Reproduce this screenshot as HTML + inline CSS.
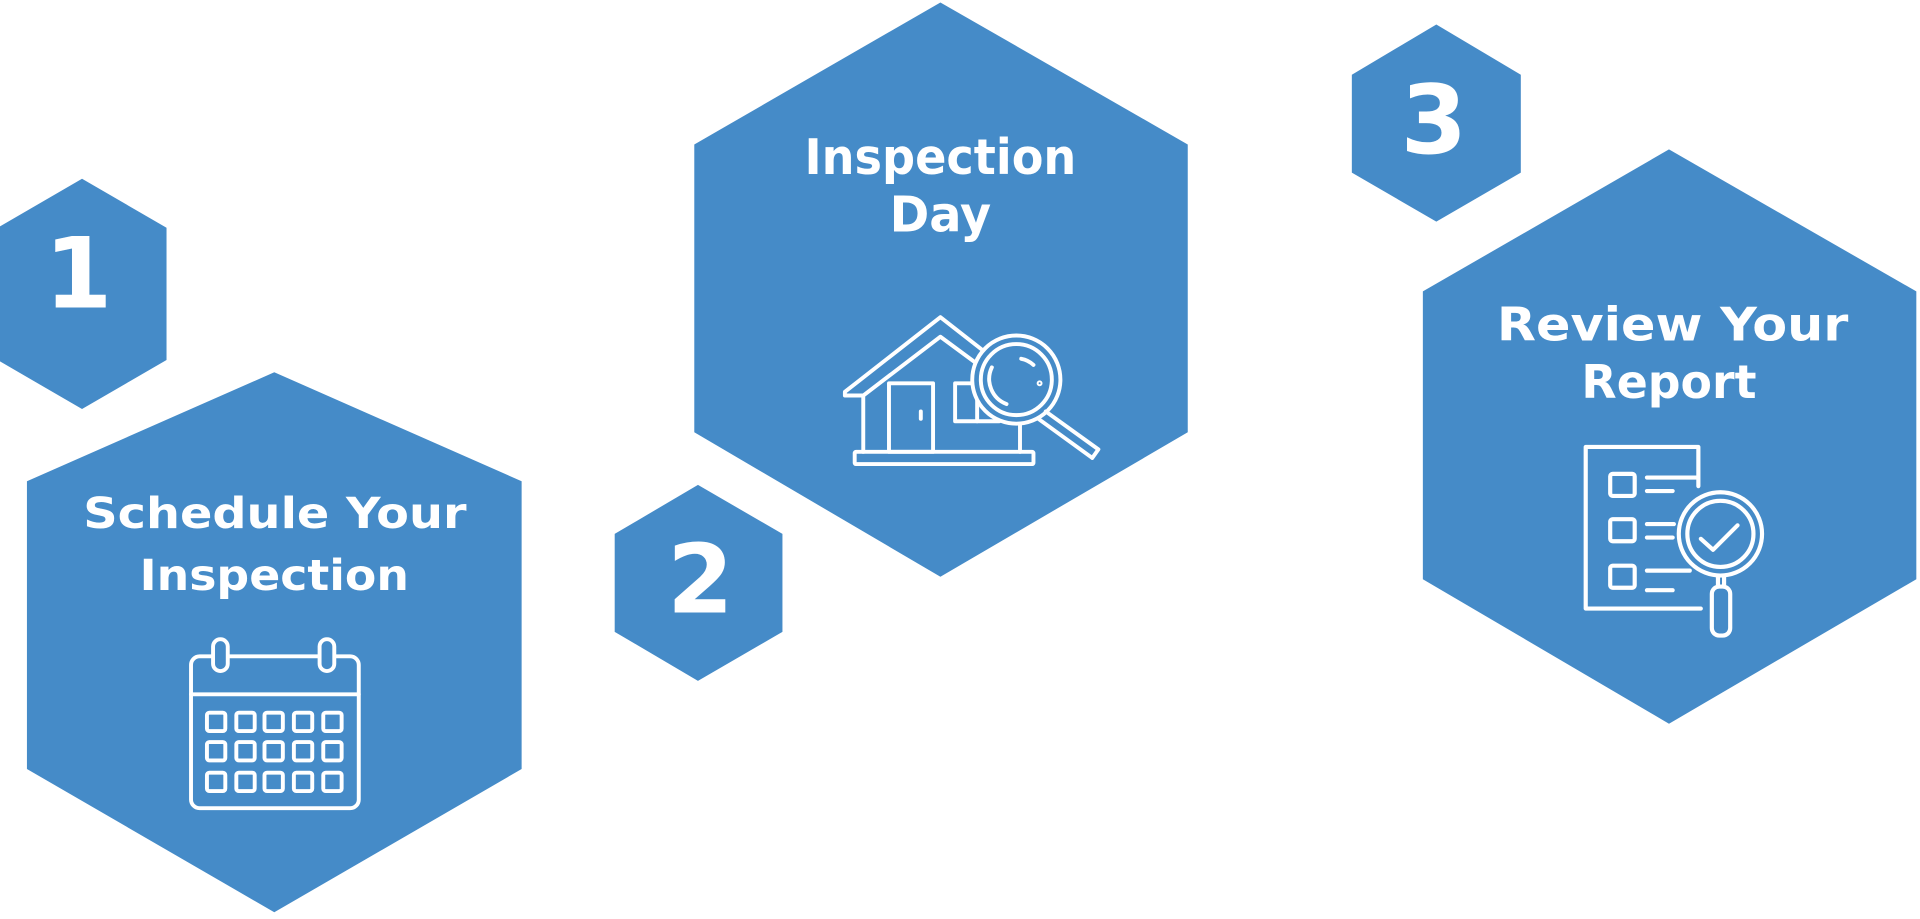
<!DOCTYPE html>
<html><head><meta charset="utf-8"><style>
html,body{margin:0;padding:0;background:#fff;width:1920px;height:919px;overflow:hidden}
svg{display:block}
text{font-family:"DejaVu Sans","Liberation Sans",sans-serif;font-weight:bold;fill:#fff;text-anchor:middle}
</style></head><body>
<svg width="1920" height="919" viewBox="0 0 1568 750.5" preserveAspectRatio="none" xmlns="http://www.w3.org/2000/svg">
<g fill="#458bc8">
<polygon points="67,146 136,186 136,294 67,334 -2,294 -2,186"/>
<polygon points="224,304 426,393 426,628 224,745 22,628 22,393"/>
<polygon points="570,396 639,436 639,516 570,556 502,516 502,436"/>
<polygon points="768,2 970,118 970,353 768,471 567,353 567,118"/>
<polygon points="1173,20 1242,61 1242,141 1173,181 1104,141 1104,61"/>
<polygon points="1363,122 1565,238 1565,473 1363,591 1162,473 1162,238"/>
</g>
<text x="64" y="251" font-size="80">1</text>
<text x="572" y="500" font-size="78">2</text>
<text x="1171" y="125" font-size="78">3</text>
<text x="224.5" y="431" font-size="35" textLength="313" lengthAdjust="spacingAndGlyphs">Schedule Your</text>
<text x="224" y="482" font-size="35" textLength="220" lengthAdjust="spacingAndGlyphs">Inspection</text>
<text x="768" y="142" font-size="40" textLength="222" lengthAdjust="spacingAndGlyphs">Inspection</text>
<text x="768" y="189" font-size="40" textLength="83" lengthAdjust="spacingAndGlyphs">Day</text>
<text x="1366" y="278" font-size="38" textLength="287" lengthAdjust="spacingAndGlyphs">Review Your</text>
<text x="1363" y="325" font-size="38" textLength="143" lengthAdjust="spacingAndGlyphs">Report</text>

<!-- calendar -->
<g fill="none" stroke="#fff" stroke-width="3.2" stroke-linecap="round" stroke-linejoin="round">
<rect x="156" y="536" width="137" height="124" rx="7"/>
<line x1="156" y1="567" x2="293" y2="567"/>
<rect x="174" y="522" width="12" height="26" rx="6" fill="#458bc8"/>
<rect x="261" y="522" width="12" height="26" rx="6" fill="#458bc8"/>
<g>
<rect x="169" y="582" width="15" height="15" rx="2"/><rect x="193" y="582" width="15" height="15" rx="2"/><rect x="216" y="582" width="15" height="15" rx="2"/><rect x="240" y="582" width="15" height="15" rx="2"/><rect x="264" y="582" width="15" height="15" rx="2"/>
<rect x="169" y="606" width="15" height="15" rx="2"/><rect x="193" y="606" width="15" height="15" rx="2"/><rect x="216" y="606" width="15" height="15" rx="2"/><rect x="240" y="606" width="15" height="15" rx="2"/><rect x="264" y="606" width="15" height="15" rx="2"/>
<rect x="169" y="631" width="15" height="15" rx="2"/><rect x="193" y="631" width="15" height="15" rx="2"/><rect x="216" y="631" width="15" height="15" rx="2"/><rect x="240" y="631" width="15" height="15" rx="2"/><rect x="264" y="631" width="15" height="15" rx="2"/>
</g>
</g>

<!-- house + magnifier -->
<g fill="none" stroke="#fff" stroke-width="3.2" stroke-linecap="round" stroke-linejoin="round">
<polyline points="705,323 690,323 690,320 768,259 846,320 846,323 833,323"/>
<polyline points="705,369 705,323 768,275 833,323"/>
<line x1="833" y1="323" x2="833" y2="369"/>
<rect x="698" y="369" width="146" height="10" rx="1"/>
<rect x="726" y="313" width="36" height="56"/>
<line x1="752" y1="336" x2="752" y2="342"/>
<rect x="780" y="313" width="36" height="31"/>
<line x1="798" y1="313" x2="798" y2="344"/>
<circle cx="830" cy="310" r="36" fill="#458bc8"/>
<circle cx="830" cy="310" r="29"/>
<path d="M810,300 A22,22 0 0 0 822,330"/>
<path d="M834,293 A20,20 0 0 1 844,298"/>
<circle cx="849" cy="313" r="0.8"/>
<polyline points="854,336 897,367 892,374 848,342"/>
</g>

<!-- report + magnifier -->
<g fill="none" stroke="#fff" stroke-width="3.4" stroke-linecap="round" stroke-linejoin="round">
<polyline points="1389,497 1295,497 1295,365 1387,365 1387,397"/>
<rect x="1315" y="387" width="20" height="18" rx="2"/>
<rect x="1315" y="424" width="20" height="18" rx="2"/>
<rect x="1315" y="462" width="20" height="18" rx="2"/>
<line x1="1345" y1="390" x2="1386" y2="390"/><line x1="1345" y1="401" x2="1366" y2="401"/>
<line x1="1345" y1="428" x2="1367" y2="428"/><line x1="1345" y1="439" x2="1366" y2="439"/>
<line x1="1345" y1="466" x2="1380" y2="466"/><line x1="1345" y1="482" x2="1366" y2="482"/>
<circle cx="1405" cy="436" r="34" fill="#458bc8"/>
<circle cx="1405" cy="436" r="27"/>
<polyline points="1389,440 1399,449 1419,429"/>
<rect x="1398" y="479" width="15" height="40" rx="6"/>
<line x1="1403" y1="470" x2="1403" y2="479"/><line x1="1408" y1="470" x2="1408" y2="479"/>
</g>
</svg>
</body></html>
